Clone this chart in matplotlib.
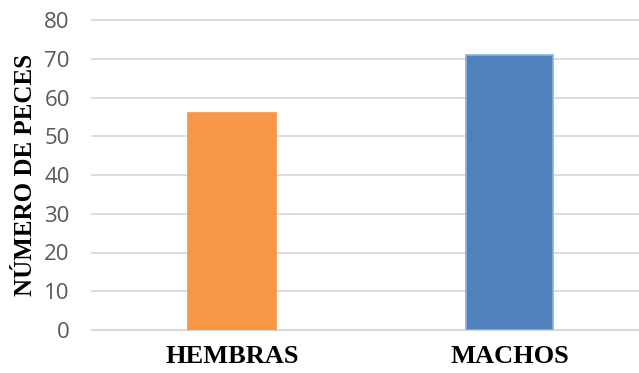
import matplotlib
matplotlib.use("Agg")
import matplotlib.pyplot as plt

categories = ["HEMBRAS", "MACHOS"]
values = [56, 71]
colors = ["#F79646", "#4F81BD"]
edges = ["#F79646", "#8FB1DA"]
yticks = [0, 10, 20, 30, 40, 50, 60, 70, 80]

W, H = 639, 373
fig = plt.figure(figsize=(W / 100, H / 100), dpi=100)
left, right, top, bottom = 92, 639, 20, 330
ax = fig.add_axes([left / W, (H - bottom) / H, (right - left) / W, (bottom - top) / H])

x = list(range(len(categories)))
ax.bar(x, values, width=0.317, color=colors, edgecolor=edges, linewidth=1.2, zorder=3)

ax.set_xlim(-0.5045, 1.4667)
ax.set_ylim(0, 80)
ax.set_yticks(yticks)
ax.set_xticks(x)
ax.set_xticklabels(categories, fontfamily="Liberation Serif", fontweight="bold", fontsize=19, color="black")
ax.tick_params(axis="x", length=0, pad=11)
ax.tick_params(axis="y", length=0, pad=16, labelsize=16, labelcolor="#595959")
for lab in ax.get_yticklabels():
    lab.set_fontfamily("Open Sans")

ax.grid(axis="y", color="#D9D9D9", linewidth=1.3, zorder=0)
for gl in ax.get_ygridlines():
    gl.set_clip_on(False)
for s in ax.spines.values():
    s.set_visible(False)
ax.axhline(0, color="#D9D9D9", linewidth=1.5, zorder=2, clip_on=False)

ax.set_ylabel("NÚMERO DE PECES", fontfamily="Liberation Serif", fontweight="bold", fontsize=18, color="black", labelpad=5)

fig.savefig("out.png", dpi=100)
